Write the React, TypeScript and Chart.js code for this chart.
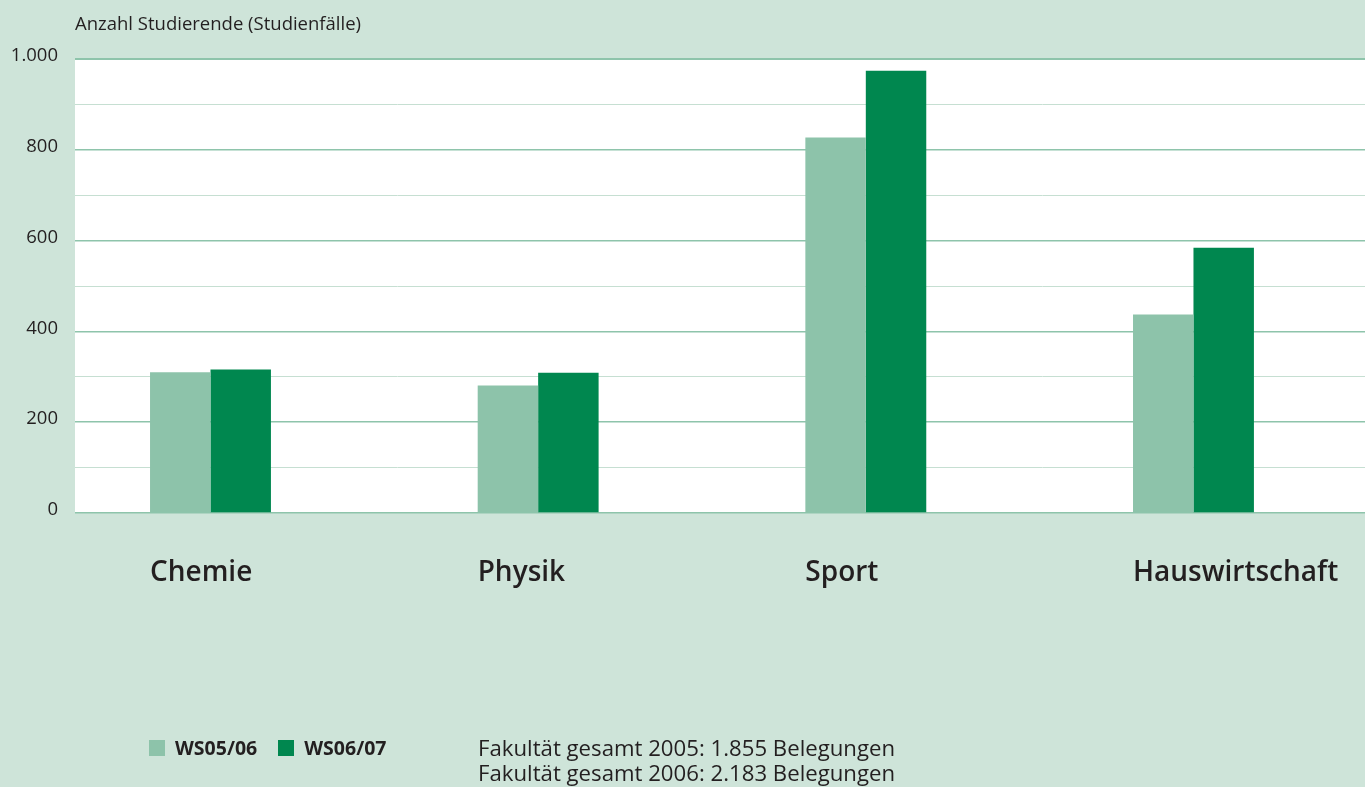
import React, { useEffect, useRef } from 'react';
import { Chart, registerables } from 'chart.js';

Chart.register(...registerables);

const categories = ['Chemie', 'Physik', 'Sport', 'Hauswirtschaft'];
const seriesLabels = ['WS05/06', 'WS06/07'];
const ws0506 = [310, 281, 827, 437];
const ws0607 = [316, 309, 974, 584];
const seriesColors = ['#8dc3aa', '#00874f'];
const yLabelTicks = [0, 200, 400, 600, 800, 1000];
const totalYears = [2005, 2006];
const totalValues = [1855, 2183];
const yTitle = 'Anzahl Studierende (Studienfälle)';

const BG = '#cee4d9';
const TEXT = '#231f20';
const FONT = "'Open Sans', 'Noto Sans', sans-serif";
const GRID_MAJOR = '#8ec4ab';
const GRID_MINOR = '#c6dfd2';

const fmt = (n: number) => String(n).replace(/\B(?=(\d{3})+(?!\d))/g, '.');

const whiteArea = {
  id: 'whiteArea',
  beforeDraw(chart: any) {
    const { ctx, chartArea } = chart;
    ctx.save();
    ctx.fillStyle = '#ffffff';
    ctx.fillRect(chartArea.left, chartArea.top, chartArea.right - chartArea.left, chartArea.bottom - chartArea.top);
    ctx.restore();
  },
};

export default function App() {
  const canvasRef = useRef<HTMLCanvasElement | null>(null);

  useEffect(() => {
    if (!canvasRef.current) return;
    const chart = new Chart(canvasRef.current, {
      type: 'bar',
      data: {
        labels: categories.map((_, i) => i),
        datasets: [
          {
            label: seriesLabels[0],
            data: ws0506,
            backgroundColor: seriesColors[0],
            borderWidth: 0,
            categoryPercentage: 0.369,
            barPercentage: 1,
          },
          {
            label: seriesLabels[1],
            data: ws0607,
            backgroundColor: seriesColors[1],
            borderWidth: 0,
            categoryPercentage: 0.369,
            barPercentage: 1,
          },
        ],
      },
      options: {
        animation: false,
        responsive: true,
        maintainAspectRatio: false,
        layout: { padding: 0 },
        plugins: {
          legend: { display: false },
          tooltip: { enabled: false },
          title: {
            display: true,
            text: yTitle,
            align: 'start',
            fullSize: false,
            color: TEXT,
            font: { family: FONT, size: 18.5, weight: 'normal', lineHeight: 1 },
            padding: { top: 15, bottom: 25.5 },
          },
        },
        scales: {
          x: {
            type: 'linear',
            min: -0.4135,
            max: 3.5235,
            offset: false,
            grid: { display: false },
            border: { display: false },
            afterBuildTicks: (scale: any) => {
              scale.ticks = categories.map((_, i) => ({ value: i }));
            },
            afterFit: (scale: any) => {
              scale.height = 274;
              scale.paddingLeft = 0;
              scale.paddingRight = 0;
            },
            ticks: {
              autoSkip: false,
              maxRotation: 0,
              minRotation: 0,
              align: 'start',
              labelOffset: -60.5,
              padding: 35,
              color: TEXT,
              font: { family: FONT, size: 28, weight: '600' },
              callback: (v: any) => categories[Number(v)] ?? '',
            },
          },
          y: {
            min: 0,
            max: 1000,
            border: { display: false },
            grid: {
              drawTicks: false,
              color: (ctx: any) => (ctx.tick && yLabelTicks.includes(ctx.tick.value) ? GRID_MAJOR : GRID_MINOR),
              lineWidth: (ctx: any) => {
                if (!ctx.tick) return 1;
                if (ctx.tick.value === 1000) return 2;
                return yLabelTicks.includes(ctx.tick.value) ? 1.5 : 1;
              },
            },
            afterFit: (scale: any) => {
              scale.width = 75;
            },
            ticks: {
              stepSize: 100,
              autoSkip: false,
              padding: 17,
              labelOffset: -3,
              color: TEXT,
              font: { family: FONT, size: 18.5 },
              callback: (v: any) => (yLabelTicks.includes(Number(v)) ? fmt(Number(v)) : ''),
            },
          },
        },
      } as any,
      plugins: [whiteArea],
    });
    return () => chart.destroy();
  }, []);

  return (
    <div
      style={{
        position: 'absolute',
        left: 0,
        top: 0,
        width: 1365,
        height: 787,
        overflow: 'hidden',
        background: BG,
        fontFamily: FONT,
        color: TEXT,
      }}
    >
      <div style={{ position: 'absolute', left: 0, top: 0, width: 1365, height: 787 }}>
        <canvas ref={canvasRef} />
      </div>
      <div
        style={{
          position: 'absolute',
          left: 149,
          top: 739,
          height: 18,
          display: 'flex',
          alignItems: 'center',
          fontSize: 19.5,
          lineHeight: '18px',
          fontWeight: 700,
        }}
      >
        {seriesLabels.map((lab, i) => (
          <div key={lab} style={{ display: 'flex', alignItems: 'center', marginRight: 21 }}>
            <span style={{ display: 'inline-block', width: 16, height: 16, background: seriesColors[i], marginRight: 10 }} />
            <span>{lab}</span>
          </div>
        ))}
      </div>
      <div
        style={{
          position: 'absolute',
          left: 478,
          top: 735,
          fontSize: 22.2,
          lineHeight: '25px',
          whiteSpace: 'nowrap',
        }}
      >
        {totalYears.map((y, i) => (
          <div key={y}>{`Fakultät gesamt ${y}: ${fmt(totalValues[i])} Belegungen`}</div>
        ))}
      </div>
    </div>
  );
}
